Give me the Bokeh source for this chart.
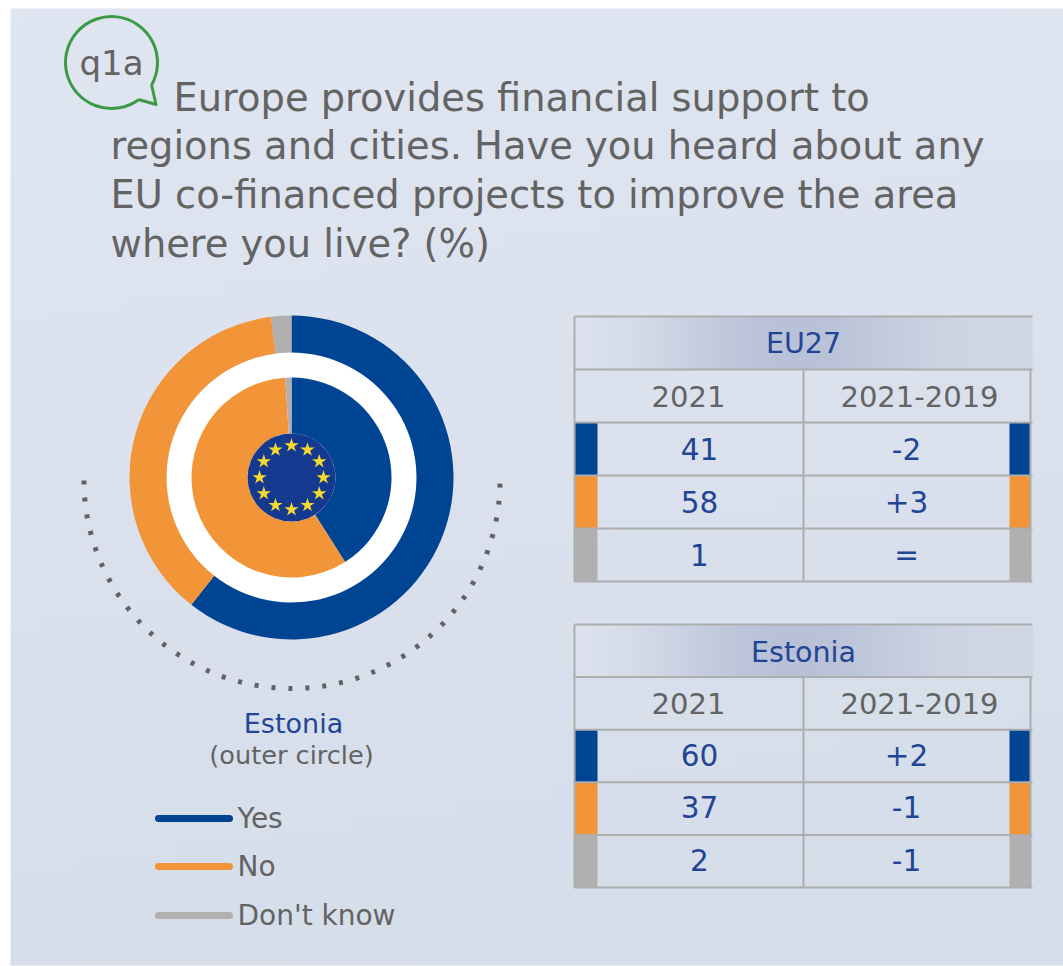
import numpy as np
from bokeh.plotting import figure
from bokeh.models import Range1d
from bokeh.core.properties import value
from bokeh.embed import file_html
from bokeh.resources import INLINE

# ---------- data ----------
title_lines = ["Europe provides financial support to",
               "regions and cities. Have you heard about any",
               "EU co-financed projects to improve the area",
               "where you live? (%)"]
categories = ["Yes", "No", "Don't know"]
estonia_2021 = [60, 37, 2]
estonia_diff = ["+2", "-1", "-1"]
eu27_2021 = [41, 58, 1]
eu27_diff = ["-2", "+3", "="]
year_labels = ["2021", "2021-2019"]

BLUE, ORANGE, GREY = "#004494", "#f29438", "#b0b0b0"
colors = [BLUE, ORANGE, GREY]
TXT_GREY = "#636363"
TXT_BLUE = "#1f4594"
LINE = "#adadad"
GREEN = "#3a9a46"
FONT = value("DejaVu Sans")

p = figure(width=1063, height=966, x_range=Range1d(0, 1063), y_range=Range1d(966, 0),
           output_backend="svg", toolbar_location=None, min_border=0,
           background_fill_color="#ffffff", outline_line_color=None)
p.axis.visible = False
p.grid.visible = False


def rgba(arr):
    arr = arr.astype(np.uint32)
    return ((255 << 24) | (arr[..., 2] << 16) | (arr[..., 1] << 8) | arr[..., 0]).astype(np.uint32)


# background gradient
h, w = 64, 64
gy, gx = np.mgrid[0:h, 0:w]
t = gy / (h - 1) * 0.85 + gx / (w - 1) * 0.15
c0, c1 = np.array([224, 230, 241]), np.array([213, 221, 234])
p.image_rgba(image=[rgba(c0[None, None, :] * (1 - t[..., None]) + c1[None, None, :] * t[..., None])],
             x=10, y=8, dw=1053, dh=957)


def ring(values, r_in, r_out, cx=291, cy=477):
    tot = 0
    s = sum(values)
    for v, c in zip(values, colors):
        start = tot
        tot += v
        p.annular_wedge(x=cx, y=cy, inner_radius=r_in, outer_radius=r_out,
                        start_angle=np.pi/2 - 2*np.pi*tot/s, end_angle=np.pi/2 - 2*np.pi*start/s,
                        fill_color=c, line_color=None)


p.circle(x=291, y=477, radius=125, fill_color="#ffffff", line_color=None)
ring(estonia_2021, 125, 162)
ring(eu27_2021, 44, 100)
p.circle(x=291, y=477, radius=44, fill_color="#15398f", line_color=None)
ang = np.arange(12) * np.pi / 6
p.scatter(x=291 + 32 * np.cos(ang), y=477 + 32 * np.sin(ang), size=15, marker="star",
          fill_color="#f5d92e", line_color=None)

# dotted arc
p.arc(x=291.5, y=480, radius=208, start_angle=np.pi, end_angle=2*np.pi, direction="anticlock",
      line_color="#5f6368", line_width=5, line_dash="4 13")

# bubble
p.arc(x=111, y=62, radius=46, start_angle=np.radians(-29), end_angle=np.radians(-54), direction="anticlock",
      line_color=GREEN, line_width=3)
p.line(x=[151, 155.5, 138], y=[84, 104, 99], line_color=GREEN, line_width=3, line_join="round")
p.text(x=[111], y=[62], text=["q1a"], text_font=FONT, text_font_size="34px", text_color=TXT_GREY,
       text_align="center", text_baseline="middle")

# title
for (tx, ty, line) in zip([173, 110, 110, 110], [97, 145, 194, 243], title_lines):
    p.text(x=[tx], y=[ty], text=[line], text_font=FONT, text_font_size="38.4px", text_color=TXT_GREY,
           text_baseline="middle")

# labels
p.text(x=[293], y=[723], text=["Estonia"], text_font=FONT, text_font_size="27px", text_color=TXT_BLUE,
       text_align="center", text_baseline="middle")
p.text(x=[291], y=[754], text=["(outer circle)"], text_font=FONT, text_font_size="25.6px", text_color=TXT_GREY,
       text_align="center", text_baseline="middle")

# legend
for c, name, ly in zip(colors, categories, [818, 866, 915]):
    p.line(x=[158, 229], y=[ly, ly], line_color=c, line_width=7, line_cap="round")
    p.text(x=[237], y=[ly], text=[name], text_font=FONT, text_font_size="28px", text_color=TXT_GREY,
           text_baseline="middle")


# tables
def table(top, rowh, name, vals, diffs, name_dy, row_dy):
    L, M, R = 574, 803, 1030
    tx = np.linspace(0, 1, 128)
    tt = np.exp(-((tx - 0.48) / 0.30) ** 2)
    a = np.array([224, 229, 240])
    b = np.array([184, 193, 215])
    edge = np.array([210, 216, 229])
    base = a[None, :] * (1 - tx[:, None]) + edge[None, :] * tx[:, None]
    g = rgba(base * (1 - tt[:, None]) + b[None, :] * tt[:, None])
    p.image_rgba(image=[g.reshape(1, -1)], x=L, y=top, dw=R + 2 - L, dh=rowh)

    ys = [top + rowh * i for i in range(6)]
    for i, c in enumerate(colors):
        y0, y1 = ys[i + 2], ys[i + 3]
        p.quad(left=L, right=L + 23, top=y0, bottom=y1, fill_color=c, line_color=None)
        p.quad(left=R - 21, right=R, top=y0, bottom=y1, fill_color=c, line_color=None)
        p.text(x=[699], y=[(y0 + y1) / 2 + row_dy], text=[str(vals[i])], text_font=FONT,
               text_font_size="29.5px", text_color=TXT_BLUE, text_align="center", text_baseline="middle")
        p.text(x=[906], y=[(y0 + y1) / 2 + row_dy], text=[diffs[i]], text_font=FONT,
               text_font_size="29.5px", text_color=TXT_BLUE, text_align="center", text_baseline="middle")
    for y in ys:
        p.line(x=[L, R + 2], y=[y, y], line_color=LINE, line_width=2)
    p.line(x=[L, L], y=[top, ys[5]], line_color=LINE, line_width=2)
    p.line(x=[M, M], y=[ys[1], ys[5]], line_color=LINE, line_width=2)
    p.line(x=[R, R], y=[ys[1], ys[5]], line_color=LINE, line_width=2)
    p.text(x=[803], y=[top + rowh / 2 + name_dy], text=[name], text_font=FONT, text_font_size="28.5px",
           text_color=TXT_BLUE, text_align="center", text_baseline="middle")
    p.text(x=[688], y=[top + rowh * 1.5], text=[year_labels[0]], text_font=FONT, text_font_size="29px",
           text_color=TXT_GREY, text_align="center", text_baseline="middle")
    p.text(x=[919], y=[top + rowh * 1.5], text=[year_labels[1]], text_font=FONT, text_font_size="29px",
           text_color=TXT_GREY, text_align="center", text_baseline="middle")


table(316, 53, "EU27", eu27_2021, eu27_diff, 0, 0)
table(624, 52.6, "Estonia", estonia_2021, estonia_diff, 2, -1.5)

open("out.html", "w").write(file_html(p, INLINE))
